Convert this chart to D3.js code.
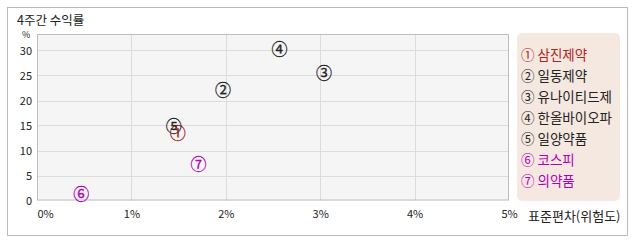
<!DOCTYPE html>
<html>
<head>
<meta charset="utf-8">
<script src="https://cdn.jsdelivr.net/npm/d3@7"></script>
<style>
  body { margin: 0; background: #fff; }
  svg text { font-family: "Noto Sans CJK KR", "Noto Sans", sans-serif; }
</style>
</head>
<body>
<svg id="chart" width="638" height="242"></svg>
<script>
// data
var names = ['삼진제약', '일동제약', '유나이티드제', '한올바이오파', '일양약품', '코스피', '의약품'];
var marks = ['①', '②', '③', '④', '⑤', '⑥', '⑦'];
var risk = [1.49, 1.97, 3.04, 2.57, 1.45, 0.47, 1.71];     // 표준편차 %
var ret = [13.7, 22.4, 25.7, 30.5, 15.2, 1.6, 7.6];        // 수익률 %
var kinds = ['own', 'peer', 'peer', 'peer', 'peer', 'index', 'index'];
var xTicks = [0, 1, 2, 3, 4, 5];
var yTicks = [0, 5, 10, 15, 20, 25, 30];

var colorOf = { own: '#b0221a', peer: '#222', index: '#b000b8' };

var svg = d3.select('#chart');

// outer frame
svg.append('rect')
    .attr('x', 7.5).attr('y', 7.5)
    .attr('width', 620).attr('height', 228)
    .attr('fill', '#fff').attr('stroke', '#bbb');

svg.append('text')
    .attr('x', 17).attr('y', 25)
    .attr('font-size', 12.5).attr('fill', '#222')
    .text('4주간 수익률');

// plot box (don't use "top" as a name, it's window.top)
var pL = 37, pR = 509, pT = 34, pB = 200.5;

var x = d3.scaleLinear().domain([0, 5]).range([pL, pR]);
var y = d3.scaleLinear().domain([0, 33.3]).range([pB, pT]);

svg.append('rect')
    .attr('x', pL).attr('y', pT)
    .attr('width', pR - pL).attr('height', pB - pT)
    .attr('fill', '#f5f5f5');

// grid
svg.append('g')
    .selectAll('line')
    .data(xTicks.slice(1, -1))
    .enter().append('line')
    .attr('x1', function(d) { return Math.round(x(d)) + 0.5; })
    .attr('x2', function(d) { return Math.round(x(d)) + 0.5; })
    .attr('y1', pT).attr('y2', pB)
    .attr('stroke', '#dcdcdc');

svg.append('g')
    .selectAll('line')
    .data(yTicks.slice(1))
    .enter().append('line')
    .attr('x1', pL).attr('x2', pR)
    .attr('y1', function(d) { return Math.round(y(d)) + 0.5; })
    .attr('y2', function(d) { return Math.round(y(d)) + 0.5; })
    .attr('stroke', '#dcdcdc');

svg.append('rect')
    .attr('x', pL + 0.5).attr('y', pT + 0.5)
    .attr('width', pR - pL - 1).attr('height', pB - pT - 1)
    .attr('fill', 'none').attr('stroke', '#bdbdbd');

// axes (labels only)
var yAxis = svg.append('g')
    .attr('transform', 'translate(' + (pL - 5) + ',0)')
    .call(d3.axisLeft(y).tickValues(yTicks).tickSize(0).tickPadding(0));
yAxis.select('.domain').remove();
yAxis.selectAll('text')
    .attr('font-size', 11).attr('fill', '#222')
    .attr('font-family', '"DejaVu Sans", sans-serif');

var xAxis = svg.append('g')
    .attr('transform', 'translate(0,' + (pB + 10) + ')')
    .call(d3.axisBottom(x).tickValues(xTicks).tickSize(0).tickPadding(0)
        .tickFormat(function(d) { return d + '%'; }));
xAxis.select('.domain').remove();
xAxis.selectAll('text')
    .attr('font-size', 11).attr('fill', '#222')
    .attr('font-family', '"DejaVu Sans", sans-serif')
    .attr('text-anchor', function(d) { return d == 0 ? 'start' : 'middle'; });

svg.append('text')
    .attr('x', 22).attr('y', 38)
    .attr('font-size', 9).attr('fill', '#222')
    .text('%');

svg.append('text')
    .attr('x', 528).attr('y', 221)
    .attr('font-size', 13).attr('fill', '#222')
    .text('표준편차(위험도)');

// points
svg.append('g')
    .selectAll('text')
    .data(names)
    .enter().append('text')
    .attr('x', function(d, i) { return x(risk[i]); })
    .attr('y', function(d, i) { return y(ret[i]); })
    .attr('text-anchor', 'middle')
    .attr('dominant-baseline', 'central')
    .attr('font-size', 16)
    .attr('stroke', function(d, i) { return colorOf[kinds[i]]; })
    .attr('stroke-width', 0.3)
    .attr('fill', function(d, i) { return colorOf[kinds[i]]; })
    .text(function(d, i) { return marks[i]; });

// legend
svg.append('rect')
    .attr('x', 517).attr('y', 33)
    .attr('width', 103).attr('height', 168)
    .attr('rx', 5)
    .attr('fill', '#f5e8e0');

svg.append('g')
    .selectAll('text')
    .data(names)
    .enter().append('text')
    .attr('x', 521)
    .attr('y', function(d, i) { return 60 + i * 21; })
    .attr('font-size', 13.5)
    .attr('fill', function(d, i) { return colorOf[kinds[i]]; })
    .text(function(d, i) { return marks[i] + ' ' + d; });
</script>
</body>
</html>
